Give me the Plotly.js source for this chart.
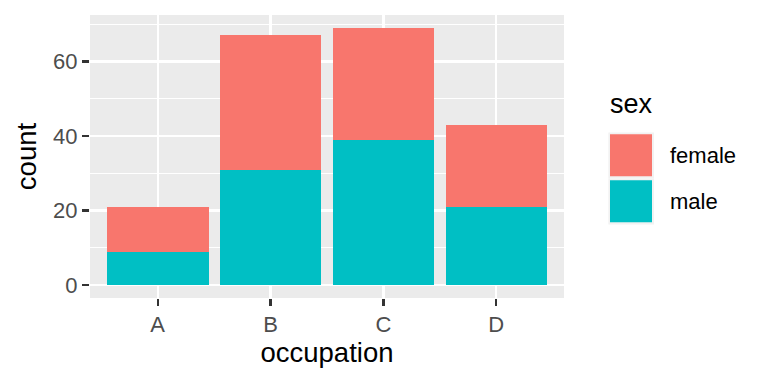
<!DOCTYPE html>
<html>
<head>
<meta charset="utf-8">
<script src="https://cdn.plot.ly/plotly-3.0.1.min.js"></script>
<style>html,body{margin:0;padding:0;background:#fff;}#chart{width:768px;height:384px;}</style>
</head>
<body>
<div id="chart"></div>
<script>
// Data
const occupation = ["A", "B", "C", "D"];
const female = [12, 36, 30, 22];
const male = [9, 31, 39, 21];
const sexLevels = ["female", "male"];
const sexColors = {female: "#F8766D", male: "#00BFC4"};

const FONT = "Liberation Sans, Arial, Helvetica, sans-serif";

// Plot area in pixels
const L = 90, R = 564, T = 15, B = 297.7;
const W = 768, H = 384;
const px = x => (x - L) / (R - L);
const py = y => (B - y) / (B - T);

const traces = [
  {type: "bar", name: "male", x: occupation, y: male, marker: {color: sexColors.male, line: {width: 0}}, width: 0.9, showlegend: false, hoverinfo: "x+y+name"},
  {type: "bar", name: "female", x: occupation, y: female, marker: {color: sexColors.female, line: {width: 0}}, width: 0.9, showlegend: false, hoverinfo: "x+y+name"}
];

// Legend drawn manually (ggplot-style large keys)
const shapes = [];
const annotations = [];
annotations.push({xref: "paper", yref: "paper", x: px(608), y: py(104), xanchor: "left", yanchor: "middle",
  text: "sex", showarrow: false, font: {family: FONT, size: 27, color: "#000000"}});
sexLevels.forEach((s, i) => {
  const top = 132.3 + i * 46;
  shapes.push({type: "rect", xref: "paper", yref: "paper", x0: px(608.3), x1: px(654), y0: py(top), y1: py(top + 46),
    fillcolor: "#F2F2F2", line: {width: 0}, layer: "above"});
  shapes.push({type: "rect", xref: "paper", yref: "paper", x0: px(610), x1: px(652), y0: py(top + 1.7), y1: py(top + 43.7),
    fillcolor: sexColors[s], line: {width: 0}, layer: "above"});
  annotations.push({xref: "paper", yref: "paper", x: px(668), y: py(top + 23.5), xanchor: "left", yanchor: "middle",
    text: s, showarrow: false, font: {family: FONT, size: 22, color: "#000000"}});
});

const layout = {
  width: W, height: H,
  margin: {l: L, r: W - R, t: T, b: H - B, pad: 0},
  paper_bgcolor: "#FFFFFF",
  plot_bgcolor: "#EBEBEB",
  barmode: "stack",
  bargap: 0.1,
  showlegend: false,
  font: {family: FONT},
  xaxis: {
    type: "category",
    categoryorder: "array", categoryarray: occupation,
    range: [-0.6, 3.6],
    showgrid: true, gridcolor: "#FFFFFF", gridwidth: 2.2,
    zeroline: false, showline: false,
    ticks: "outside", ticklen: 7, tickwidth: 2.2, tickcolor: "#333333",
    tickfont: {family: FONT, size: 22, color: "#4D4D4D"},
    title: {text: "occupation", font: {family: FONT, size: 27.5, color: "#000000"}, standoff: 6},
    fixedrange: true
  },
  yaxis: {
    range: [-3.45, 72.45],
    tickvals: [0, 20, 40, 60],
    ticktext: ["0", "20", "40", "60"],
    showgrid: true, gridcolor: "#FFFFFF", gridwidth: 2.2,
    minor: {tickvals: [10, 30, 50, 70], showgrid: true, gridcolor: "#FFFFFF", gridwidth: 1.1, ticks: ""},
    zeroline: false, showline: false,
    ticks: "outside", ticklen: 7, tickwidth: 2.2, tickcolor: "#333333",
    tickfont: {family: FONT, size: 22, color: "#4D4D4D"},
    title: {text: "count", font: {family: FONT, size: 27.5, color: "#000000"}, standoff: 8},
    fixedrange: true
  },
  shapes: shapes,
  annotations: annotations
};

Plotly.newPlot("chart", traces, layout, {staticPlot: true, displayModeBar: false});
</script>
</body>
</html>
